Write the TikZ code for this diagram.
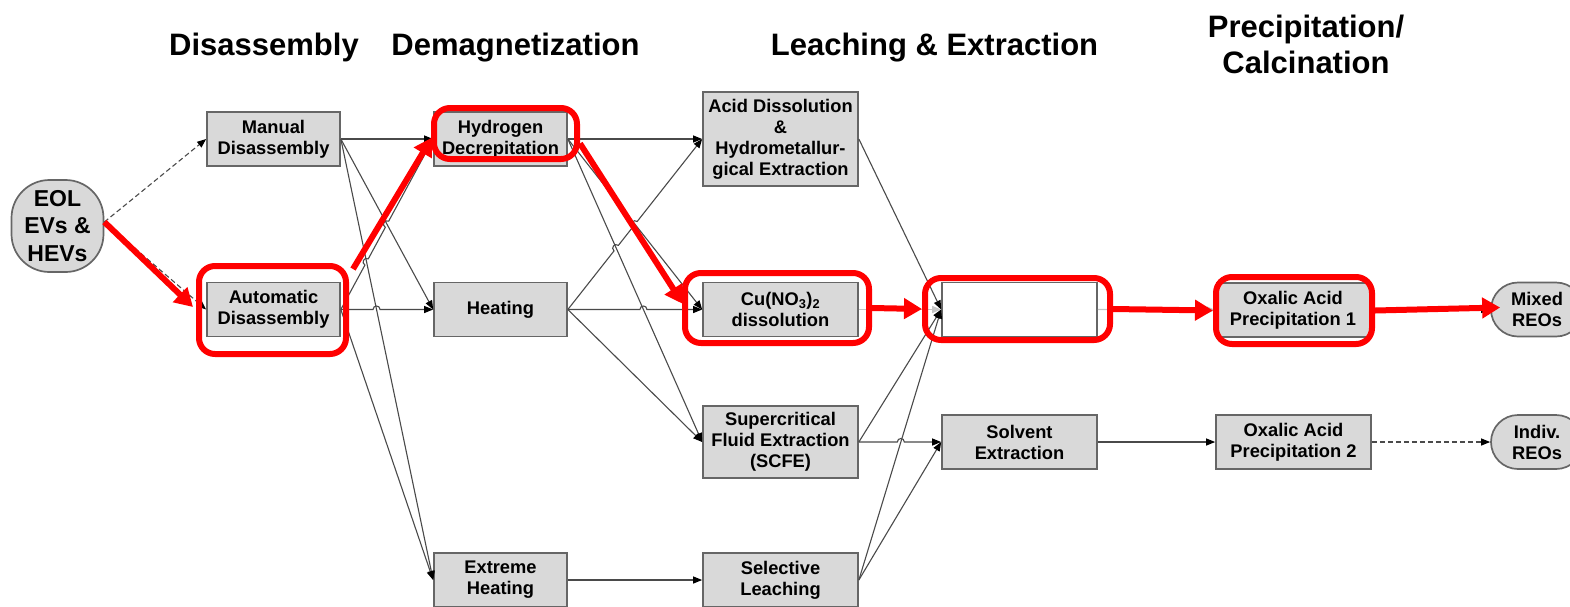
\documentclass[tikz,border=0pt]{standalone}
\usepackage{fontspec}
\setmainfont{Liberation Sans}
\usetikzlibrary{arrows.meta,calc,intersections}

\definecolor{boxfill}{HTML}{D9D9D9}
\definecolor{boxedge}{HTML}{666666}
\definecolor{wire}{HTML}{4A4A4A}
\definecolor{faintwire}{HTML}{C4C4C4}
\definecolor{hilite}{HTML}{FF0000}

\newcommand{\hopr}{3.5pt}

\begin{document}
\begin{tikzpicture}[x=1pt,y=-1pt,
  stage/.style={draw=boxedge, line width=1.7pt, fill=boxfill, minimum width=133pt,
    minimum height=54pt, inner sep=0pt, align=center,
    font=\fontsize{18.3}{21}\selectfont\bfseries},
  widestage/.style={stage, minimum width=155pt},
  terminal/.style={stage, rounded corners=27pt, minimum width=92pt},
  heading/.style={font=\fontsize{31}{36}\selectfont\bfseries, anchor=base},
  conn/.style={draw=wire, line width=1.1pt, -{Triangle[length=9pt,width=7pt,color=black]}},
  dconn/.style={conn, dash pattern=on 5pt off 3pt},
  fconn/.style={draw=faintwire, line width=1.3pt, -{Triangle[length=9pt,width=7pt]}},
  hop/.style={bend left=90, looseness=1.7},
  frame/.style={draw=hilite, line width=6pt, rounded corners=16pt, inner sep=0pt},
  redarrow/.style={draw=hilite, line width=6pt, -{Triangle[length=18pt,width=20pt]}}
]
\useasboundingbox (0,0) rectangle (1570,606);
\clip (0,0) rectangle (1570,606);

% column headings
\node[heading] (hdis) at (264,55) {Disassembly};
\node[heading] (hdem) at (515.5,55) {Demagnetization};
\node[heading] (hlea) at (934.5,55) {Leaching \& Extraction};
\node[heading] (hpre) at (1306,37) {Precipitation/};
\node[heading] (hcal) at (1306,73) {Calcination};

% process stages
\node[stage, rounded corners=38pt, minimum width=92pt, minimum height=92pt,
  font=\fontsize{23}{27.5}\selectfont\bfseries] (eol) at (57.5,226) {EOL\\EVs \&\\HEVs};
\node[stage] (man)   at (273.5,139)   {Manual\\Disassembly};
\node[stage] (auto)  at (273.5,309.5) {Automatic\\Disassembly};
\node[stage] (hyd)   at (500.5,139)   {Hydrogen\\Decrepitation};
\node[stage] (heat)  at (500.5,309.5) {Heating};
\node[stage] (xheat) at (500.5,580)   {Extreme\\Heating};
\node[widestage, minimum height=94pt] (acid) at (780.5,139)
  {Acid Dissolution\\\&\\Hydrometallur-\\gical Extraction};
\node[widestage] (cu) at (780.5,309.5) {Cu(NO\textsubscript{3})\textsubscript{2}\\dissolution};
\node[widestage, minimum height=72pt] (scfe) at (780.5,442)
  {Supercritical\\Fluid Extraction\\(SCFE)};
\node[widestage] (sel)   at (780.5,580)   {Selective\\Leaching};
\node[widestage, fill=white] (blank) at (1019.5,309.5) {};
\node[widestage] (solv)  at (1019.5,442)  {Solvent\\Extraction};
\node[widestage, minimum width=153pt] (ox1) at (1293,310) {Oxalic Acid\\Precipitation 1};
\node[widestage] (ox2)   at (1293.5,442)  {Oxalic Acid\\Precipitation 2};
\node[terminal] (mixed)  at (1537,309.5)  {Mixed\\REOs};
\node[terminal] (indiv)  at (1537,442)    {Indiv.\\REOs};

% disassembly routes
\draw[dconn] ($(eol.east)+(0,-4)$) -- (man.west);
\draw[dconn] ($(eol.east)+(0,-4)$) -- (auto.west);

% disassembly -> demagnetization
\draw[conn] (man.east) -- (hyd.west);
\draw[conn, name path=mh] (man.east) -- (heat.west);
\draw[conn, name path=mx] (man.east) -- (xheat.west);
\draw[conn] (auto.east) -- (xheat.west);
\path[name path=ah] (auto.east) -- (heat.west);
\path[name path=ay] (auto.east) -- (hyd.west);
\path[name intersections={of=ah and mx, by=j1}];
\path[name intersections={of=ay and mx, by=j2}];
\path[name intersections={of=ay and mh, by=j3}];
\draw[conn] (auto.east) -- ($(j1)!\hopr!(auto.east)$) to[hop] ($(j1)!\hopr!(heat.west)$) -- (heat.west);
\draw[conn] (auto.east) -- ($(j2)!\hopr!(auto.east)$) to[hop] ($(j2)!\hopr!(hyd.west)$)
  -- ($(j3)!\hopr!(auto.east)$) to[hop] ($(j3)!\hopr!(hyd.west)$) -- (hyd.west);

% demagnetization -> leaching & extraction
\draw[conn] (hyd.east) -- (acid.west);
\draw[conn, name path=hc] (hyd.east) -- (cu.west);
\draw[conn, name path=hs] (hyd.east) -- (scfe.west);
\draw[conn] (heat.east) -- (scfe.west);
\draw[conn] (xheat.east) -- (sel.west);
\path[name path=ta] (heat.east) -- (acid.west);
\path[name path=tc] (heat.east) -- (cu.west);
\path[name intersections={of=ta and hs, by=k1}];
\path[name intersections={of=ta and hc, by=k2}];
\path[name intersections={of=tc and hs, by=k3}];
\draw[conn] (heat.east) -- ($(k1)!\hopr!(heat.east)$) to[hop] ($(k1)!\hopr!(acid.west)$)
  -- ($(k2)!\hopr!(heat.east)$) to[hop] ($(k2)!\hopr!(acid.west)$) -- (acid.west);
\draw[conn] (heat.east) -- ($(k3)!\hopr!(heat.east)$) to[hop] ($(k3)!\hopr!(cu.west)$) -- (cu.west);

% leaching & extraction -> separation
\draw[conn] (acid.east) -- (blank.west);
\draw[fconn] (cu.east) -- (blank.west);
\draw[conn] (scfe.east) -- (blank.west);
\draw[conn, name path=sb] (sel.east) -- (blank.west);
\draw[conn] (sel.east) -- (solv.west);
\path[name path=ss] (scfe.east) -- (solv.west);
\path[name intersections={of=ss and sb, by=m1}];
\draw[conn] (scfe.east) -- ($(m1)!\hopr!(scfe.east)$) to[hop] ($(m1)!\hopr!(solv.west)$) -- (solv.west);

% precipitation / calcination
\draw[fconn] (blank.east) -- (ox1.west);
\draw[conn] (solv.east) -- (ox2.west);
\draw[conn] (ox1.east) -- (mixed.west);
\draw[dconn] (ox2.east) -- (indiv.west);

% highlighted route
\node[frame, minimum width=147pt, minimum height=88pt] (f1) at (272.5,310) {};
\node[frame, minimum width=143pt, minimum height=51pt] (f2) at (505.5,133.5) {};
\node[frame, minimum width=184pt, minimum height=70pt] (f3) at (777,308) {};
\node[frame, minimum width=185pt, minimum height=62pt] (f4) at (1017.5,309) {};
\node[frame, minimum width=156pt, minimum height=67pt] (f5) at (1294,310.5) {};

\draw[redarrow] ($(eol.east)+(0,-4)$) -- ($(f1.west)+(-3,-3)$);
\draw[redarrow] ($(f1.north east)+(4,6)$) -- ($(f2.west)+(1,4)$);
\draw[redarrow] ($(f2.east)+(0,10)$) -- ($(f3.west)+(1,-4)$);
\draw[redarrow] (f3.east) -- (f4.west);
\draw[redarrow] (f4.east) -- (f5.west);
\draw[redarrow] (f5.east) -- ($(mixed.west)+(10,-2)$);
\end{tikzpicture}
\end{document}
